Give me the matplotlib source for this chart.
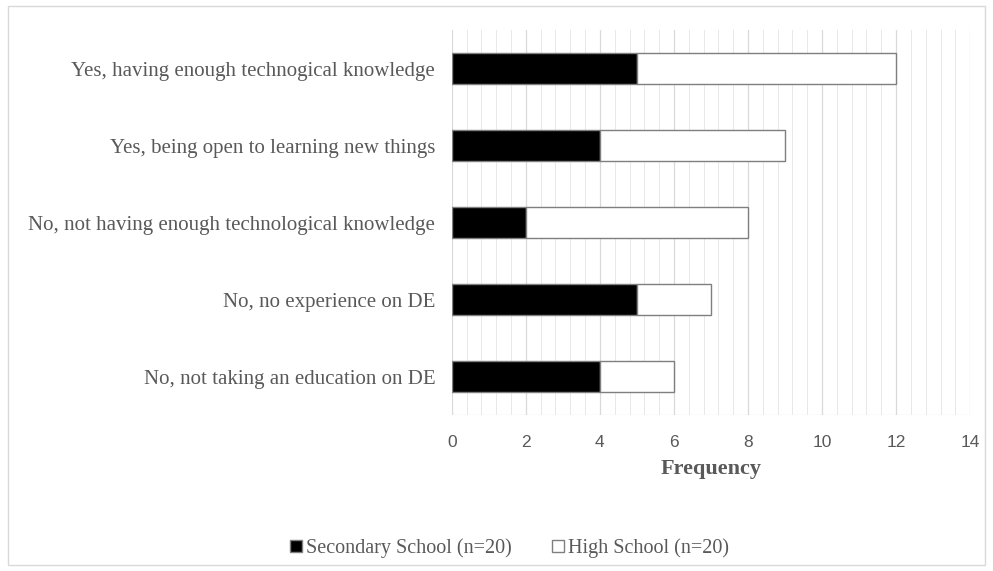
import matplotlib.pyplot as plt
from matplotlib.patches import Rectangle, Patch
from matplotlib.ticker import MultipleLocator

categories = [
    "Yes, having enough technogical knowledge",
    "Yes, being open to learning new things",
    "No, not having enough technological knowledge",
    "No, no experience on DE",
    "No, not taking an education on DE",
]
secondary = [5, 4, 2, 5, 4]
high = [7, 5, 6, 2, 2]
xticks = [0, 2, 4, 6, 8, 10, 12, 14]

serif = "Liberation Serif"
txt = "#595959"

fig = plt.figure(figsize=(9.93, 5.71), dpi=100)
ax = fig.add_axes([0.455, 0.273, 0.522, 0.674])

ypos = list(range(len(categories)))[::-1]
ax.barh(ypos, secondary, height=0.4, color="black", edgecolor="#7f7f7f", linewidth=1, zorder=3)
ax.barh(ypos, high, left=secondary, height=0.4, color="white", edgecolor="#7f7f7f", linewidth=1, zorder=3)

ax.set_xlim(0, 14)
ax.set_ylim(-0.5, 4.5)
ax.set_xticks(xticks)
ax.xaxis.set_minor_locator(MultipleLocator(0.4))
ax.grid(axis="x", which="major", color="#d9d9d9", linewidth=0.9, zorder=0)
ax.grid(axis="x", which="minor", color="#e8e8e8", linewidth=0.7, zorder=0)
for s in ax.spines.values():
    s.set_visible(False)
ax.axhline(-0.5, color="#d9d9d9", linewidth=0.9, zorder=1)

ax.set_yticks(ypos)
ax.set_yticklabels(categories, fontfamily=serif, fontsize=15, color=txt)
ax.tick_params(axis="y", length=0, pad=12)
ax.tick_params(axis="x", which="both", length=0, pad=14, labelsize=12.5, labelcolor=txt)
for lbl in ax.get_xticklabels():
    lbl.set_fontfamily("Liberation Sans")

ax.set_xlabel("Frequency", fontfamily=serif, fontsize=16, fontweight="bold", color=txt, labelpad=7)

handles = [
    Patch(facecolor="black", edgecolor="#7f7f7f", label="Secondary School (n=20)"),
    Patch(facecolor="white", edgecolor="#7f7f7f", label="High School (n=20)"),
]
fig.legend(handles=handles, loc="center", bbox_to_anchor=(0.513, 0.04), ncol=2, frameon=False,
           prop={"family": serif, "size": 14.5}, labelcolor=txt, handlelength=0.6, handleheight=0.6,
           handletextpad=0.2, columnspacing=2.0)

fig.patches.append(Rectangle((0.008, 0.01), 0.984, 0.98, transform=fig.transFigure,
                             fill=False, edgecolor="#d9d9d9", linewidth=1))

fig.savefig("out.png", dpi=100)
